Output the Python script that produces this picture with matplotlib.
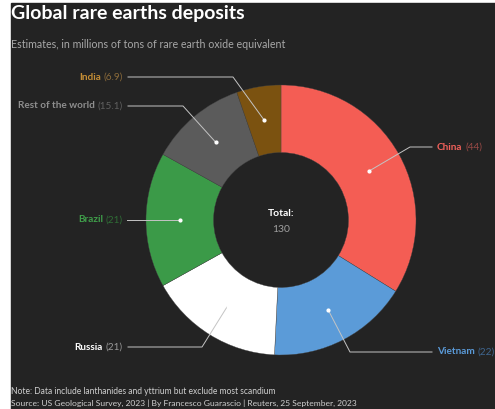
"""
Global rare earths deposits - donut chart in the Reuters dark style.
"""

import matplotlib
matplotlib.use("Agg")
import matplotlib.pyplot as plt
import numpy as np

# Data (millions of tons of rare earth oxide equivalent)
countries = ["China", "Vietnam", "Russia", "Brazil", "Rest of the world", "India"]
reserves = [44, 22, 21, 21, 15.1, 6.9]
value_labels = ["44", "22", "21", "21", "15.1", "6.9"]
total_label = "130"

slice_colors = ["#f45d54", "#5b9bd8", "#ffffff", "#3b9a48", "#5b5b5b", "#7b5210"]
name_colors = ["#f0605a", "#5a9ad8", "#ffffff", "#3f9e4a", "#8e8e8e", "#c48d35"]
value_colors = ["#9a4a46", "#3f6690", "#9a9a9a", "#2f6e36", "#606060", "#8a6a3a"]

BG = "#232323"
W, H = 495, 409


def py(y):
    """Convert a top-down pixel row into the axes' bottom-up coordinate."""
    return H - y


# Leader line layout: elbow point, end of horizontal run, label anchor x, side
leaders = [
    ((410, 147), 432, 437, "left"),
    ((350, 352), 432, 437, "left"),
    ((202, 347), 128, 123, "right"),
    (None, 127, 123, "right"),
    ((183, 106), 128, 123, "right"),
    ((233, 77), 128, 123, "right"),
]

fig = plt.figure(figsize=(W / 100, H / 100), dpi=100, facecolor="white")
ax = fig.add_axes([0, 0, 1, 1])
ax.set_xlim(0, W)
ax.set_ylim(0, H)
ax.set_aspect("equal")
ax.axis("off")

# dark panel (the reference has a thin white margin on the left/top)
ax.add_patch(plt.Rectangle((11, 0), W - 11, H - 3, color=BG, zorder=0))

center = (281, py(220))
radius = 135
wedges, _ = ax.pie(reserves, colors=slice_colors, startangle=90,
                   counterclock=False, center=center, radius=radius,
                   wedgeprops=dict(width=radius * 0.5, edgecolor="#444444",
                                   linewidth=0.25))
ax.set_xlim(0, W)
ax.set_ylim(0, H)

renderer = fig.canvas.get_renderer()
label_font = dict(family="Lato", fontsize=7.2)

for i, w in enumerate(wedges):
    mid = np.deg2rad((w.theta1 + w.theta2) / 2)
    dot = (center[0] + 0.75 * radius * np.cos(mid),
           center[1] + 0.75 * radius * np.sin(mid))
    elbow, end_x, text_x, side = leaders[i]
    if elbow is None:
        elbow_pt = dot
    else:
        elbow_pt = (elbow[0], py(elbow[1]))
    xs = [dot[0], elbow_pt[0], end_x]
    ys = [dot[1], elbow_pt[1], elbow_pt[1]]
    ax.plot(xs, ys, color="#c4c4c4", lw=0.7, zorder=3)
    ax.plot(dot[0], dot[1], "o", color="white", ms=2.0, zorder=4)

    ty = elbow_pt[1]
    val = "(" + value_labels[i] + ")"
    if side == "left":
        t = ax.text(text_x, ty, countries[i], ha="left", va="center",
                    color=name_colors[i], fontweight="bold", **label_font)
        bb = t.get_window_extent(renderer)
        ax.text(bb.x1 + 3, ty, val, ha="left", va="center",
                color=value_colors[i], **label_font)
    else:
        t = ax.text(text_x, ty, val, ha="right", va="center",
                    color=value_colors[i], **label_font)
        bb = t.get_window_extent(renderer)
        ax.text(bb.x0 - 3, ty, countries[i], ha="right", va="center",
                color=name_colors[i], fontweight="bold", **label_font)

# centre text
ax.text(center[0], py(213), "Total:", ha="center", va="center", color="white",
        family="Lato", fontweight="bold", fontsize=7.5)
ax.text(center[0], py(229), total_label, ha="center", va="center",
        color="#a0a0a0", family="Lato", fontsize=7.5)

# titles
ax.text(11, py(19), "Global rare earths deposits", ha="left", va="baseline",
        color="white", family="Lato", fontweight="bold", fontsize=14)
ax.text(11, py(48), "Estimates, in millions of tons of rare earth oxide equivalent",
        ha="left", va="baseline", color="#a8a8a8", family="Lato", fontsize=7.7)

# footnotes
ax.text(11, py(394), "Note: Data include lanthanides and yttrium but exclude most scandium",
        ha="left", va="baseline", color="#cfcfcf", family="Lato", fontsize=6.15)
ax.text(11, py(406), "Source: US Geological Survey, 2023 | By Francesco Guarascio | "
        "Reuters, 25 September, 2023",
        ha="left", va="baseline", color="#cfcfcf", family="Lato", fontsize=6.1)

fig.savefig("out.png", dpi=100, facecolor="white")
